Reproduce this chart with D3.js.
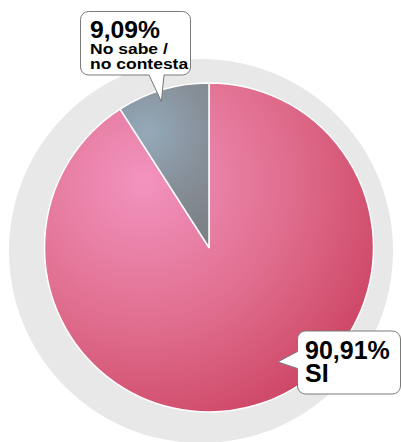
<!DOCTYPE html>
<html>
<head>
<meta charset="utf-8">
<script src="https://cdn.jsdelivr.net/npm/d3@7"></script>
<style>
  html, body { margin: 0; padding: 0; background: #fff; }
  svg { display: block; }
  text { font-family: "Liberation Sans", Arial, Helvetica, sans-serif; font-weight: bold; fill: #000; }
</style>
</head>
<body>
<svg id="chart" width="401" height="442"></svg>
<script>
// Survey answers and their shares (%)
const categories = ["SI", "No sabe / no contesta"];
const values = [90.91, 9.09];
const valueLabels = ["90,91%", "9,09%"];
const labelLines = [["SI"], ["No sabe /", "no contesta"]];

// Slice shading: [highlight, middle, edge]
const sliceColors = [
  ["#f293bf", "#e06e8e", "#c93c5c"],
  ["#94aab9", "#858d96", "#797c82"]
];

const width = 401, height = 442;
const cx = 209, cy = 247.5, radius = 164.5;

const svg = d3.select("#chart");
const defs = svg.append("defs");

// Grey backdrop disc behind the pie
svg.append("circle")
  .attr("cx", cx - 8).attr("cy", cy + 3.5).attr("r", 192)
  .attr("fill", "#e8e8e8");

const pie = d3.pie().sort(null).value(d => d.value);
const arcs = pie(categories.map((c, i) => ({ name: c, value: values[i], i })));
const arc = d3.arc().innerRadius(0).outerRadius(radius);

const g = svg.append("g").attr("transform", `translate(${cx},${cy})`);

arcs.forEach((a, i) => {
  const grad = defs.append("radialGradient")
    .attr("id", "grad" + i)
    .attr("gradientUnits", "userSpaceOnUse");
  const stops = sliceColors[i];
  grad.selectAll("stop").data(stops).join("stop")
    .attr("offset", (d, k) => k / (stops.length - 1))
    .attr("stop-color", d => d);
});

const paths = g.selectAll("path.slice").data(arcs).join("path")
  .attr("class", "slice")
  .attr("d", arc)
  .attr("fill", (d, i) => `url(#grad${i})`)
  .attr("stroke", "#fff")
  .attr("stroke-width", 1.5)
  .attr("stroke-linejoin", "round");

// Place each gradient's light spot in the upper-left part of its slice
paths.each(function (d, i) {
  const b = this.getBBox();
  const fx = b.x + b.width * 0.3, fy = b.y + b.height * 0.3;
  const r = Math.hypot(b.width, b.height) * (i === 0 ? 0.62 : 0.7);
  d3.select("#grad" + i)
    .attr("cx", fx).attr("cy", fy).attr("fx", fx).attr("fy", fy).attr("r", r);
});

// Callout bubble outline with a pointer on the bottom or left edge
function bubblePath(x, y, w, h, r, tip, side, p0, p1) {
  const p = d3.path();
  p.moveTo(x + r, y);
  p.lineTo(x + w - r, y);
  p.arcTo(x + w, y, x + w, y + r, r);
  p.lineTo(x + w, y + h - r);
  p.arcTo(x + w, y + h, x + w - r, y + h, r);
  if (side === "bottom") {
    p.lineTo(p1, y + h);
    p.lineTo(tip[0], tip[1]);
    p.lineTo(p0, y + h);
  }
  p.lineTo(x + r, y + h);
  p.arcTo(x, y + h, x, y + h - r, r);
  if (side === "left") {
    p.lineTo(x, p1);
    p.lineTo(tip[0], tip[1]);
    p.lineTo(x, p0);
  }
  p.lineTo(x, y + r);
  p.arcTo(x, y, x + r, y, r);
  p.closePath();
  return p.toString();
}

// Pointer tips sit inside the slice they describe
const tipAt = (angle, dist) => [cx + dist * Math.sin(angle), cy - dist * Math.cos(angle)];

const callouts = [
  { box: [297.5, 331, 103, 63], side: "left", p: [351.5, 368.5],
    tip: tipAt(2.6, 133.5), x: 305, baselines: [359, 381.5], sizes: [25, 25], stretch: [1, 1] },
  { box: [80.5, 11.5, 110, 63.5], side: "bottom", p: [149, 164],
    tip: tipAt((arcs[1].startAngle + arcs[1].endAngle) / 2 - 0.03, 153.5),
    x: 90, baselines: [38, 54, 68.5], sizes: [24, 15.5, 15.5], stretch: [1.03, 1.13, 1.13] }
];

callouts.forEach((c, i) => {
  const [x, y, w, h] = c.box;
  svg.append("path")
    .attr("d", bubblePath(x, y, w, h, 8, c.tip, c.side, c.p[0], c.p[1]))
    .attr("fill", "#fff")
    .attr("stroke", "#7a7a7a")
    .attr("stroke-width", 1);
  const lines = [valueLabels[i]].concat(labelLines[i]);
  lines.forEach((s, k) => {
    const sx = c.stretch[k];
    svg.append("text")
      .attr("transform", `translate(${c.x},${c.baselines[k]}) scale(${sx},1)`)
      .attr("font-size", c.sizes[k])
      .text(s);
  });
});
</script>
</body>
</html>
